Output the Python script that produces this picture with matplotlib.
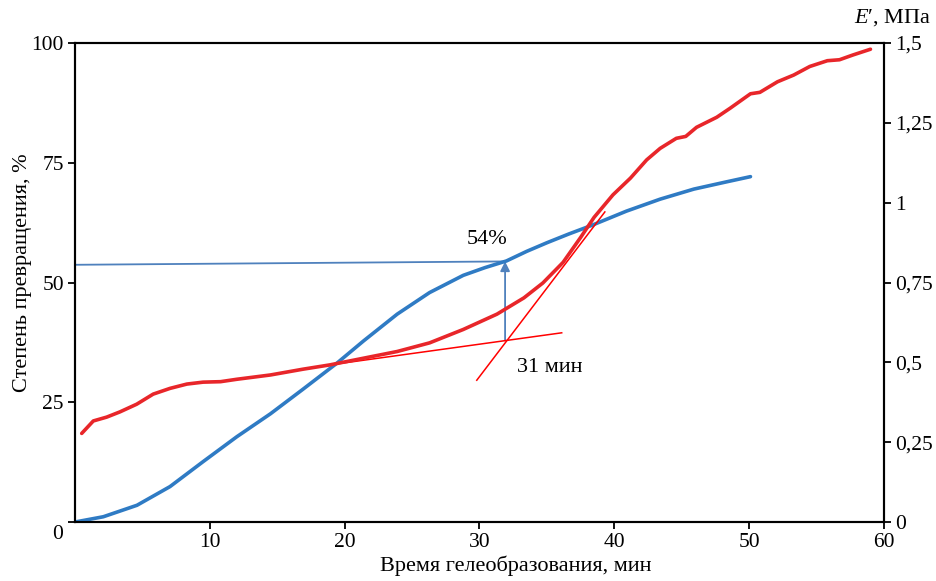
import numpy as np
import matplotlib.pyplot as plt

plt.rcParams['font.family'] = ['Liberation Serif', 'DejaVu Serif']
plt.rcParams['mathtext.fontset'] = 'custom'
plt.rcParams['mathtext.it'] = 'Liberation Serif:italic'
plt.rcParams['mathtext.rm'] = 'Liberation Serif'

# conversion degree, %
t_conv = [0, 2.1, 4.6, 7.05, 9.5, 12.0, 14.5, 16.9, 19.4, 21.4, 23.9, 26.3, 28.8,
          30.4, 32.0, 33.5, 35.0, 36.6, 38.3, 40.9, 43.4, 45.9, 48.3, 50.1]
conv = [0, 1.1, 3.5, 7.4, 12.6, 17.8, 22.6, 27.7, 33.1, 37.8, 43.4, 47.9, 51.5,
        53.1, 54.5, 56.5, 58.3, 60.1, 61.9, 64.9, 67.4, 69.5, 71.0, 72.1]

# storage modulus E', MPa (read as % of right axis, then scaled)
t_mod = [0.5, 1.36, 2.35, 3.34, 4.58, 5.8, 7.05, 8.3, 9.5, 10.8, 12.0, 14.5, 16.9,
         18.9, 21.4, 23.9, 26.3, 28.8, 31.3, 33.3, 34.7, 36.2, 37.5, 38.5, 39.9,
         41.2, 42.4, 43.4, 44.6, 45.3, 46.1, 47.6, 48.6, 50.1, 50.8, 52.1, 53.3,
         54.5, 55.8, 56.7, 57.7, 59.0]
mod_pct = [18.5, 21.1, 21.9, 23.0, 24.6, 26.7, 27.9, 28.8, 29.2, 29.3, 29.8, 30.7, 31.9,
           32.8, 34.2, 35.6, 37.4, 40.2, 43.4, 46.8, 49.9, 54.2, 59.4, 63.6, 68.3,
           71.8, 75.6, 78.0, 80.1, 80.5, 82.4, 84.5, 86.4, 89.4, 89.7, 91.9, 93.3,
           95.1, 96.3, 96.5, 97.5, 98.7]
mod = [v * 0.015 for v in mod_pct]

# tangent lines (right-axis units) and gel point
tan1_x = [18.9, 36.1]
tan1_y = [0.492, 0.5925]
tan2_x = [29.8, 39.3]
tan2_y = [0.444, 0.971]
gel_t = 31.9
gel_conv = 54.4
gel_base = 37.9
hline_y = [53.7, 54.4]

fig = plt.figure(figsize=(9.36, 5.81), dpi=100)
ax = fig.add_axes([0.0801, 0.1015, 0.8643, 0.8245])
ax2 = ax.twinx()

ax.plot(t_conv, conv, color='#2f7bc4', lw=2.6, zorder=3, solid_capstyle='round',
        solid_joinstyle='round')
ax.plot([0, gel_t], hline_y, color='#4f81bd', lw=1.3, zorder=2)
ax.annotate('', xy=(gel_t, gel_conv), xytext=(gel_t, gel_base),
            arrowprops=dict(arrowstyle='-|>', color='#4f81bd', lw=1.3,
                            mutation_scale=14, shrinkA=0, shrinkB=0), zorder=2)

ax2.plot(t_mod, mod, color='#e8262a', lw=2.6, zorder=3, solid_capstyle='round',
         solid_joinstyle='round')
ax2.plot(tan1_x, tan1_y, color='#ff0000', lw=1.1)
ax2.plot(tan2_x, tan2_y, color='#ff0000', lw=1.1)

ax.text(30.6, 59.0, '54%', fontsize=16, ha='center', va='center')
ax.text(35.2, 32.2, '31 мин', fontsize=16, ha='center', va='center')

ax.set_xlim(0, 60)
ax.set_ylim(0, 100)
ax2.set_ylim(0, 1.5)

ax.set_xticks([10, 20, 30, 40, 50, 60])
ax.set_yticks([0, 25, 50, 75, 100])
ax.set_yticklabels(['', '25', '50', '75', '100'])
ax2.set_yticks([0, 0.25, 0.5, 0.75, 1, 1.25, 1.5])
ax2.set_yticklabels(['0', '0,25', '0,5', '0,75', '1', '1,25', '1,5'])

for a in (ax, ax2):
    a.tick_params(direction='out', length=5, width=1.3, labelsize=15.5, pad=3)
    for s in a.spines.values():
        s.set_linewidth(1.5)

ax.text(-0.021, -0.027, '0', transform=ax.transAxes, fontsize=15.5, ha='center', va='center')

ax.set_xlabel('Время гелеобразования, мин', fontsize=16)
ax.xaxis.set_label_coords(0.545, -0.07)
ax.set_ylabel('Степень превращения, %', fontsize=16)
ax.yaxis.set_label_coords(-0.053, 0.52)
fig.text(0.995, 0.97, "$E$′, МПа", fontsize=16, ha='right', va='center')

fig.savefig('out.png', dpi=100)
